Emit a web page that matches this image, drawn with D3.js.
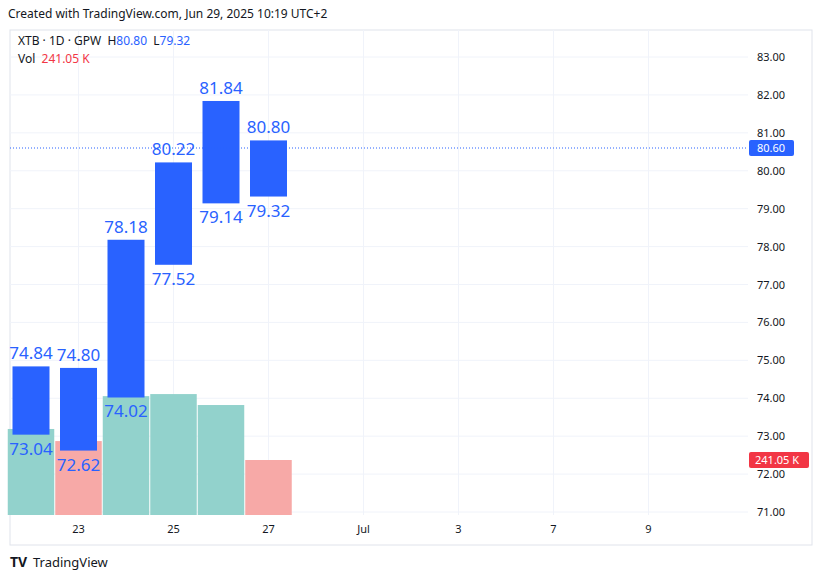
<!DOCTYPE html><html><head><meta charset="utf-8"><script src="https://cdn.jsdelivr.net/npm/d3@7"></script>
<style>body{margin:0;background:#fff}text{font-family:"Noto Sans",Arial,sans-serif;white-space:pre}</style></head><body>
<svg id="c" width="822" height="579"></svg>
<script>
const days=["Jun 20","23","24","25","26","27"];
const highs=[74.84,74.80,78.18,80.22,81.84,80.80];
const lows=[73.04,72.62,74.02,77.52,79.14,79.32];
const volumes=[377,324,521,530,482,241.05];
const volUp=[true,false,true,true,true,false];
const xTickLabels=[{i:1,t:"23"},{i:3,t:"25"},{i:5,t:"27"},{i:7,t:"Jul"},{i:9,t:"3"},{i:11,t:"7"},{i:13,t:"9"}];
const priceTicks=[71,72,73,74,75,76,77,78,79,80,81,82,83];
const lastPrice=80.60;

const svg=d3.select("#c");
const L=10,R=748,T=30,B=515;
const x=d3.scaleLinear().domain([0,1]).range([31,78.5]);
const y=d3.scaleLinear().domain([71,83]).range([512,57]);
const yv=d3.scaleLinear().domain([0,241.05]).range([B,460]);
const blue="#2962ff";
svg.append("text").attr("x",8).attr("y",18).attr("font-size",12).attr("fill","#131722").text("Created with TradingView.com, Jun 29, 2025 10:19 UTC+2");
svg.append("rect").attr("x",L).attr("y",T).attr("width",812-L).attr("height",545-T).attr("fill","none").attr("stroke","#e0e3eb");
const g=svg.append("g");
priceTicks.forEach(v=>g.append("line").attr("x1",L).attr("x2",R).attr("y1",y(v)).attr("y2",y(v)).attr("stroke","#f0f3fa"));
xTickLabels.forEach(d=>g.append("line").attr("x1",x(d.i)).attr("x2",x(d.i)).attr("y1",T).attr("y2",B).attr("stroke","#f0f3fa"));
const bw=x(1)-x(0);
svg.selectAll(".v").data(volumes).join("rect").attr("x",(d,i)=>x(i)-bw/2+0.5).attr("width",bw-1)
 .attr("y",d=>yv(d)).attr("height",d=>B-yv(d)).attr("fill",(d,i)=>volUp[i]?"#92d2cc":"#f7a9a7");
const cw=37;
svg.selectAll(".b").data(highs).join("rect").attr("x",(d,i)=>x(i)-cw/2).attr("width",cw)
 .attr("y",d=>y(d)).attr("height",(d,i)=>y(lows[i])-y(d)).attr("fill",blue);
svg.selectAll(".h").data(highs).join("text").attr("x",(d,i)=>x(i)).attr("y",d=>y(d)-7).attr("text-anchor","middle")
 .attr("font-size",17).attr("fill",blue).text(d=>d.toFixed(2));
svg.selectAll(".l").data(lows).join("text").attr("x",(d,i)=>x(i)).attr("y",d=>y(d)+20).attr("text-anchor","middle")
 .attr("font-size",17).attr("fill",blue).text(d=>d.toFixed(2));
priceTicks.forEach(v=>svg.append("text").attr("x",757).attr("y",y(v)+4).attr("font-size",11).attr("fill","#131722").text(v.toFixed(2)));
xTickLabels.forEach(d=>svg.append("text").attr("x",x(d.i)).attr("y",533).attr("text-anchor","middle").attr("font-size",11).attr("fill","#131722").text(d.t));
svg.append("line").attr("x1",L).attr("x2",R).attr("y1",y(lastPrice)).attr("y2",y(lastPrice)).attr("stroke",blue).attr("stroke-dasharray","1,2");
svg.append("rect").attr("x",749).attr("y",y(lastPrice)-8).attr("width",45).attr("height",16).attr("rx",2).attr("fill",blue);
svg.append("text").attr("x",757).attr("y",y(lastPrice)+4).attr("font-size",11).attr("fill","#fff").text(lastPrice.toFixed(2));
svg.append("rect").attr("x",749).attr("y",yv(241.05)-8).attr("width",60).attr("height",16).attr("rx",2).attr("fill","#f23645");
svg.append("text").attr("x",755).attr("y",yv(241.05)+4).attr("font-size",11).attr("fill","#fff").text("241.05 K");
const lg=svg.append("text").attr("x",18).attr("y",45).attr("font-size",12).attr("fill","#131722");
lg.append("tspan").text("XTB · 1D · GPW\u00a0\u00a0H");lg.append("tspan").attr("fill",blue).text("80.80");
lg.append("tspan").text("\u00a0\u00a0L");lg.append("tspan").attr("fill",blue).text("79.32");
const lv=svg.append("text").attr("x",18).attr("y",63).attr("font-size",12).attr("fill","#131722");
lv.append("tspan").text("Vol\u00a0\u00a0");lv.append("tspan").attr("fill","#f23645").text("241.05 K");
svg.append("text").attr("x",10).attr("y",567).attr("font-size",14).attr("font-weight","bold").attr("fill","#131722").text("TV");
svg.append("text").attr("x",33).attr("y",567).attr("font-size",13).attr("fill","#131722").text("TradingView");
</script></body></html>
